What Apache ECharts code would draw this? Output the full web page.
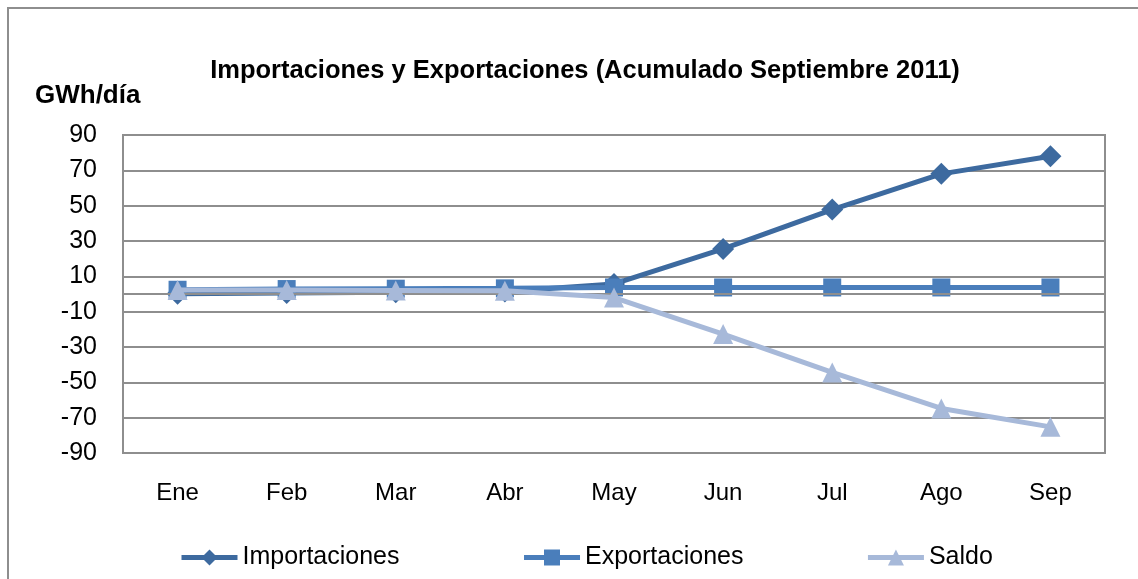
<!DOCTYPE html>
<html>
<head>
<meta charset="utf-8">
<script src="https://cdn.jsdelivr.net/npm/echarts@6/dist/echarts.min.js"></script>
<style>
  html, body { margin: 0; padding: 0; background: #fff; }
  #chart { width: 1138px; height: 579px; }
</style>
</head>
<body>
<div id="chart"></div>
<script>
const months = ['Ene', 'Feb', 'Mar', 'Abr', 'May', 'Jun', 'Jul', 'Ago', 'Sep'];
const importaciones = [0.2, 0.6, 1.0, 1.4, 5.7, 25.5, 47.8, 68.0, 78.0];
const exportaciones = [2.4, 2.8, 3.0, 3.2, 3.7, 3.7, 3.7, 3.7, 3.7];
const saldo = [2.2, 2.2, 2.0, 1.8, -2.0, -22.7, -44.4, -64.8, -75.2];

const font = '"Liberation Sans", Arial, sans-serif';
const gridGray = '#8e8e8e';

var chartDom = document.getElementById('chart');
var myChart = echarts.init(chartDom);
var option;

option = {
    animation: false,
    backgroundColor: '#fff',
    textStyle: { fontFamily: font },
    graphic: [
        {
            type: 'rect',
            shape: { x: 8, y: 8, width: 1300, height: 700 },
            style: { fill: 'none', stroke: gridGray, lineWidth: 2 },
            silent: true
        }
    ],
    title: {
        text: 'Importaciones y Exportaciones (Acumulado Septiembre 2011)',
        left: 580,
        textAlign: 'center',
        top: 53,
        textStyle: { fontSize: 25.5, fontWeight: 'bold', color: '#000', fontFamily: font }
    },
    legend: {
        data: ['Importaciones', 'Exportaciones', 'Saldo'],
        bottom: 9,
        left: 179,
        padding: 0,
        itemWidth: 56,
        itemHeight: 20,
        itemGap: 122,
        lineStyle: { width: 5 },
        textStyle: { fontSize: 25, color: '#000', fontFamily: font }
    },
    grid: {
        left: 123,
        right: 33,
        top: 135,
        bottom: 126,
        show: true,
        borderColor: gridGray,
        borderWidth: 2
    },
    xAxis: {
        type: 'category',
        data: months,
        boundaryGap: true,
        axisLine: { show: false, onZero: false },
        axisTick: { show: false },
        axisLabel: { fontSize: 24, color: '#000', margin: 28, fontFamily: font }
    },
    yAxis: {
        type: 'value',
        name: 'GWh/día',
        nameLocation: 'end',
        nameGap: 26,
        nameTextStyle: { fontSize: 26, fontWeight: 'bold', color: '#000', align: 'left', padding: [0, 0, 0, -88], fontFamily: font },
        min: -90,
        max: 90,
        interval: 20,
        axisLine: { show: false },
        axisTick: { show: false },
        axisLabel: { fontSize: 25, color: '#000', margin: 26, fontFamily: font },
        splitLine: { lineStyle: { color: gridGray, width: 2 } }
    },
    series: [
        {
            name: 'Importaciones',
            type: 'line',
            data: importaciones,
            symbol: 'diamond',
            symbolSize: 22,
            color: '#3d6a9f',
            lineStyle: { width: 5, color: '#3d6a9f' },
            itemStyle: { color: '#3d6a9f' },
            markLine: {
                silent: true,
                symbol: 'none',
                label: { show: false },
                lineStyle: { color: gridGray, width: 2, type: 'solid' },
                data: [{ yAxis: 0 }]
            },
            z: 3
        },
        {
            name: 'Exportaciones',
            type: 'line',
            data: exportaciones,
            symbol: 'rect',
            symbolSize: 18,
            color: '#4a7ebb',
            lineStyle: { width: 5, color: '#4a7ebb' },
            itemStyle: { color: '#4a7ebb' },
            z: 4
        },
        {
            name: 'Saldo',
            type: 'line',
            data: saldo,
            symbol: 'triangle',
            symbolSize: 20,
            color: '#a7b9d9',
            lineStyle: { width: 5, color: '#a7b9d9' },
            itemStyle: { color: '#a7b9d9' },
            z: 5
        }
    ]
};

option && myChart.setOption(option);
</script>
</body>
</html>
